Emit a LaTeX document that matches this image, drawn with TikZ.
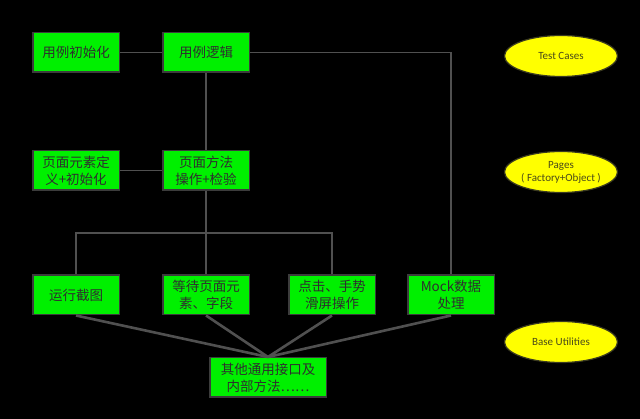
\documentclass[tikz,border=0pt]{standalone}
\usepackage{fontspec}
\setmainfont{Carlito}
\newfontfamily\cjk{Noto Sans CJK SC}
\usetikzlibrary{shapes.geometric}
\definecolor{boxgreen}{HTML}{00F000}
\definecolor{boxline}{HTML}{3C3C3C}
\definecolor{boxtext}{HTML}{2E2E2E}
\definecolor{linegray}{HTML}{505050}
\definecolor{layeryellow}{HTML}{FFFF00}
\definecolor{layerline}{HTML}{3A3A20}
\definecolor{layertext}{HTML}{4A4A1A}
\tikzset{
  box/.style={draw=boxline, fill=boxgreen, line width=1.5pt, minimum width=86.5pt,
    minimum height=39.5pt, inner sep=0pt, align=center, text=boxtext,
    font=\cjk\fontsize{13.5}{17}\selectfont},
  layer/.style={ellipse, draw=layerline, fill=layeryellow, line width=1.2pt,
    minimum width=113pt, minimum height=41pt, inner sep=0pt, align=center,
    text=layertext, font=\fontsize{11}{13}\selectfont},
  link/.style={draw=linegray, line width=1.8pt},
  fan/.style={draw=linegray, line width=2.6pt}
}
\begin{document}
\begin{tikzpicture}[x=1pt,y=-1pt]
        % 背景
        \fill[black] (0,0) rectangle (640,419);
        \useasboundingbox (0,0) rectangle (640,419);

        % 用例层
        \node[box] (init)  at (76,52.5)  {用例初始化};
        \node[box] (logic) at (206,52.5) {用例逻辑};

        % 页面层
        \node[box] (elem)  at (76,170.5)  {页面元素定\\义+初始化};
        \node[box] (pmeth) at (206,170.5) {页面方法\\操作+检验};

        % 基础层
        \node[box] (shot) at (76,295)  {运行截图};
        \node[box] (wait) at (206,295) {等待页面元\\素、字段};
        \node[box] (tap)  at (332,295) {点击、手势\\滑屏操作};
        \node[box] (mock) at (451,295) {Mock数据\\处理};
        \node[box, minimum width=116.5pt] (other) at (268,377.5) {其他通用接口及\\内部方法……};

        % 右侧说明
        \node[layer] (tc)    at (561,56)  {Test Cases};
        \node[layer] (pages) at (561,172) {Pages\\( Factory+Object )};
        \node[layer] (base)  at (561,342) {Base Utilities};

        % 连线
        \coordinate (bar) at (206,233);
        \draw[link] (init) -- (logic);
        \draw[link] (logic) -- (pmeth);
        \draw[link] (elem) -- (pmeth);
        \draw[link] (logic.east) -| (mock.north);
        \draw[link] (pmeth.south) -- (bar) -- (wait.north);
        \draw[link] (shot.north) |- (bar);
        \draw[link] (tap.north) |- (bar);

        % 汇聚到公共接口
        \draw[fan] (shot.south) -- (other.north);
        \draw[fan] (wait.south) -- (other.north);
        \draw[fan] (tap.south) -- (other.north);
        \draw[fan] (mock.south) -- (other.north);
\end{tikzpicture}
\end{document}
